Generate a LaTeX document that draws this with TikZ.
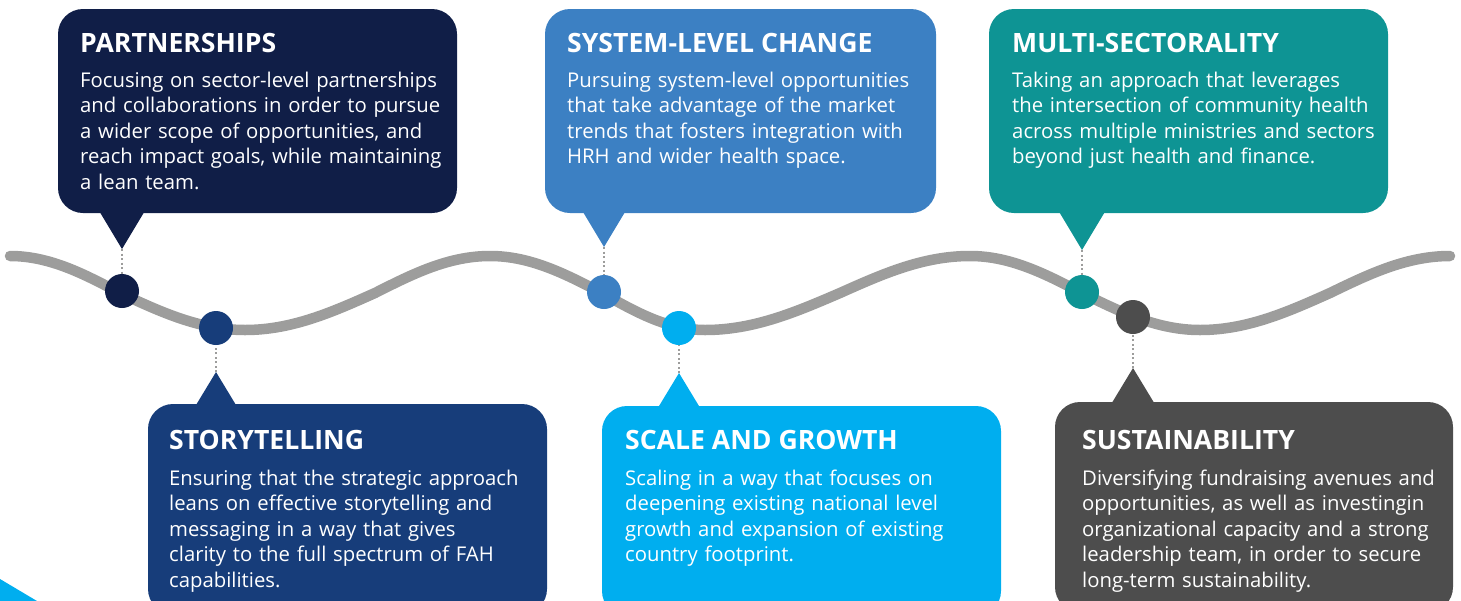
\documentclass[tikz,border=0pt]{standalone}
\usepackage{fontspec}
\setmainfont{Open Sans}
\usetikzlibrary{positioning}
\definecolor{navyblue}{HTML}{101E47}
\definecolor{storyblue}{HTML}{173D7A}
\definecolor{systemblue}{HTML}{3C80C3}
\definecolor{scalecyan}{HTML}{00AEEF}
\definecolor{multiteal}{HTML}{0E9494}
\definecolor{sustaingrey}{HTML}{4D4D4D}
\definecolor{wavegrey}{HTML}{9D9D9C}

\begin{document}
\begin{tikzpicture}
    %% setup
    [
        x=1pt, y=-1pt,
        cardnode/.style={rectangle, rounded corners=25pt, minimum height=204pt, inner sep=0pt},
        dotnode/.style={circle, minimum size=34pt, inner sep=0pt},
        titletext/.style={anchor=base west, inner sep=0pt, text=white, font=\fontsize{26.6}{30}\selectfont\bfseries},
        bodytext/.style={anchor=base west, inner sep=0pt, text=white, text width=400pt, align=left, font=\fontsize{20.3}{25.5}\selectfont},
        wave/.style={draw=wavegrey, line width=10.5pt, line cap=round},
        dotline/.style={draw=wavegrey, line width=2.2pt, dash pattern=on 2pt off 2.5pt},
    ]
    \useasboundingbox (0,0) rectangle (1461,600);
    \clip (0,0) rectangle (1461,600);

    %% Wave
    \draw[wave] (10,256) cos (120,293) sin (245,330) cos (375,293) sin (490,256)
        cos (602,293) sin (705,330) cos (840,293) sin (970,256)
        cos (1082,293) sin (1200,330) cos (1330,293) sin (1450,256);
    \fill[scalecyan] (0,579) -- (37,601) -- (0,601) -- cycle;

    %% Boxes
    \node [cardnode, fill=navyblue, minimum width=399pt] (partnerships) at (257.5,111) {};
    \node [cardnode, fill=systemblue, minimum width=391pt] (systemchange) at (740.5,111) {};
    \node [cardnode, fill=multiteal, minimum width=399pt] (multisector) at (1188.5,111) {};
    \node [cardnode, fill=storyblue, minimum width=399pt, minimum height=210pt] (storytelling) at (347.5,509) {};
    \node [cardnode, fill=scalecyan, minimum width=399pt, minimum height=210pt] (scalegrowth) at (801.5,511) {};
    \node [cardnode, fill=sustaingrey, minimum width=398pt, minimum height=210pt] (sustainability) at (1254,507) {};

    %% Pointers
    \coordinate (partnershipstip) at (122,249);
    \coordinate (systemtip) at (604,247);
    \coordinate (multitip) at (1082,250);
    \coordinate (storytip) at (216,372);
    \coordinate (scaletip) at (679,373);
    \coordinate (sustaintip) at (1133,368);
    \fill[navyblue] (partnershipstip) -- ++(-24,-40) -- ++(48,0) -- cycle;
    \fill[systemblue] (systemtip) -- ++(-24,-40) -- ++(48,0) -- cycle;
    \fill[multiteal] (multitip) -- ++(-24,-40) -- ++(48,0) -- cycle;
    \fill[storyblue] (storytip) -- ++(-23,38) -- ++(46,0) -- cycle;
    \fill[scalecyan] (scaletip) -- ++(-23,38) -- ++(46,0) -- cycle;
    \fill[sustaingrey] (sustaintip) -- ++(-23,38) -- ++(46,0) -- cycle;

    %% Dots
    \node [dotnode, fill=navyblue] (partnershipsdot) at (122,291) {};
    \node [dotnode, fill=storyblue] (storydot) at (216,328) {};
    \node [dotnode, fill=systemblue] (systemdot) at (604,292) {};
    \node [dotnode, fill=scalecyan] (scaledot) at (679,328) {};
    \node [dotnode, fill=multiteal] (multidot) at (1082,292) {};
    \node [dotnode, fill=sustaingrey] (sustaindot) at (1133,317) {};

    %% Lines
    \draw[dotline] (partnershipstip) -- (partnershipsdot);
    \draw[dotline] (systemtip) -- (systemdot);
    \draw[dotline] (multitip) -- (multidot);
    \draw[dotline] (storytip) -- (storydot);
    \draw[dotline] (scaletip) -- (scaledot);
    \draw[dotline] (sustaintip) -- (sustaindot);

    %% Texts
    \node [titletext] (partnershipstitle) at (80,52) {PARTNERSHIPS};
    \node [bodytext] (partnershipsbody) at (80,87) {Focusing on sector-level partnerships\\
        and collaborations in order to pursue\\ a wider scope of opportunities, and\\
        reach impact goals, while maintaining\\ a lean team.};
    \node [titletext] (systemtitle) at (567,52) {SYSTEM-LEVEL CHANGE};
    \node [bodytext] (systembody) at (567,87) {Pursuing system-level opportunities\\
        that take advantage of the market\\ trends that fosters integration with\\
        HRH and wider health space.};
    \node [titletext] (multititle) at (1012,52) {MULTI-SECTORALITY};
    \node [bodytext] (multibody) at (1012,87) {Taking an approach that leverages\\
        the intersection of community health\\ across multiple ministries and sectors\\
        beyond just health and finance.};
    \node [titletext] (storytitle) at (169,449) {STORYTELLING};
    \node [bodytext] (storybody) at (169,485) {Ensuring that the strategic approach\\
        leans on effective storytelling and\\ messaging in a way that gives\\
        clarity to the full spectrum of FAH\\ capabilities.};
    \node [titletext] (scaletitle) at (625,449) {SCALE AND GROWTH};
    \node [bodytext] (scalebody) at (625,485) {Scaling in a way that focuses on\\
        deepening existing national level\\ growth and expansion of existing\\
        country footprint.};
    \node [titletext] (sustaintitle) at (1082,449) {SUSTAINABILITY};
    \node [bodytext] (sustainbody) at (1082,485) {Diversifying fundraising avenues and\\
        opportunities, as well as investingin\\ organizational capacity and a strong\\
        leadership team, in order to secure\\ long-term sustainability.};
\end{tikzpicture}
\end{document}
